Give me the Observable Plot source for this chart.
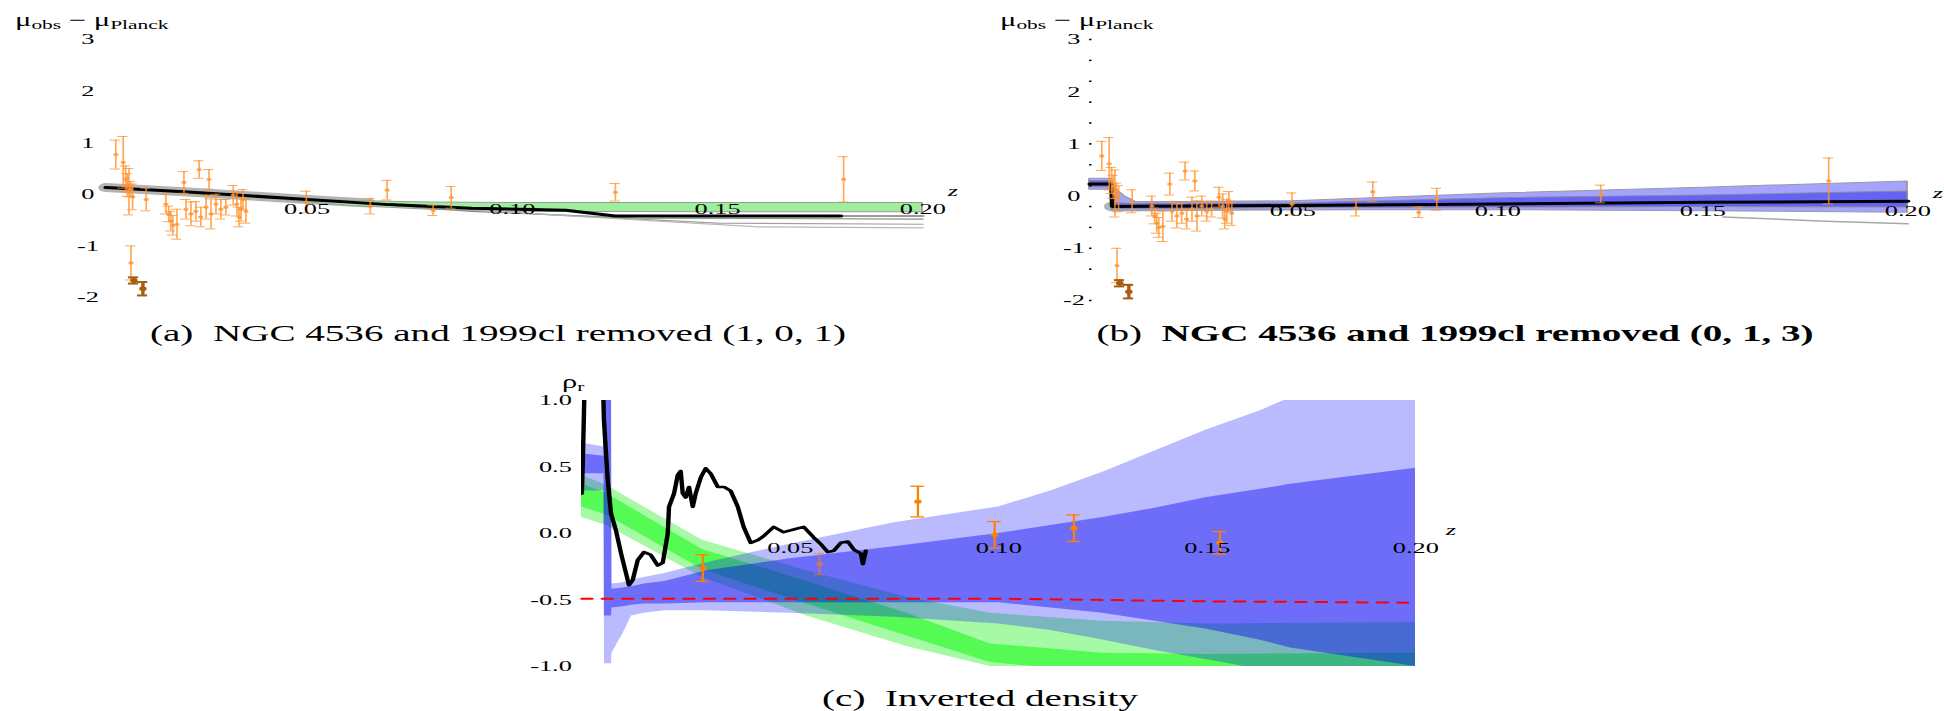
<!DOCTYPE html>
<html><head><meta charset="utf-8">
<script src="https://cdn.jsdelivr.net/npm/d3@7"></script>
<script src="https://cdn.jsdelivr.net/npm/@observablehq/plot@0.6"></script>
<style>
html,body{margin:0;padding:0;background:#fff;}
body{width:1944px;height:711px;overflow:hidden;position:relative;font-family:"Liberation Serif",serif;color:#000;}
.lbl{position:absolute;white-space:nowrap;line-height:1;}
.lbl sub{font-size:70%;vertical-align:-0.25em;}
</style></head><body>
<script>
// ---------- shared supernova residual data (panels a, b) ----------
const snZ   = [0.0034,0.0052,0.0058,0.0062,0.0066,0.0070,0.0075,0.0108,0.0071,0.0156,0.0163,0.0168,0.0173,0.0183,0.0200,0.0237,0.0261,0.0205,0.0217,0.0229,0.0241,0.0254,0.0266,0.0278,0.0290,0.0302,0.0320,0.0329,0.0339,0.0344,0.0351,0.0334,0.0498,0.0654,0.0695,0.0807,0.0851,0.1251,0.1807];
const snMu  = [0.77,0.62,0.30,0.18,0.05,0.10,-0.05,-0.10,-1.33,-0.19,-0.38,-0.52,-0.60,-0.58,0.23,0.48,0.29,-0.29,-0.38,-0.33,-0.44,-0.25,-0.38,-0.19,-0.29,-0.25,-0.02,-0.19,-0.29,-0.10,-0.33,-0.44,-0.15,-0.23,0.08,-0.31,-0.06,0.04,0.29];
const snErr = [0.28,0.50,0.25,0.22,0.45,0.15,0.25,0.22,0.33,0.19,0.15,0.19,0.19,0.29,0.21,0.17,0.19,0.19,0.23,0.19,0.19,0.23,0.29,0.19,0.19,0.15,0.19,0.23,0.23,0.19,0.23,0.19,0.21,0.15,0.19,0.10,0.21,0.17,0.44];
// removed objects (NGC 4536, 1999cl)
const remZ   = [0.0078, 0.0100];
const remMu  = [-1.67, -1.83];
const remErr = [0.06, 0.13];

// ---------- panel (a) model curves ----------
const aBlackZ  = [0.001,0.02,0.05,0.07,0.09,0.113,0.125,0.18];
const aBlackMu = [0.13,0.05,-0.10,-0.20,-0.27,-0.31,-0.42,-0.42];
const aTailZ   = [0.18,0.20];
const aTailMu  = [-0.42,-0.42];
const aHaloZ   = [0.001,0.02,0.05,0.065];
const aHaloMu  = [0.13,0.05,-0.10,-0.17];
const aGreenZ  = [0.045,0.06,0.08,0.10,0.15,0.20];
const aGreenHi = [-0.08,-0.13,-0.16,-0.17,-0.17,-0.17];
const aGreenLo = [-0.12,-0.22,-0.30,-0.34,-0.35,-0.35];
const aGrey1Z = [0.06,0.09,0.13,0.20],  aGrey1Mu = [-0.15,-0.33,-0.46,-0.48];
const aGrey2Z = [0.07,0.11,0.15,0.20],  aGrey2Mu = [-0.20,-0.40,-0.56,-0.58];
const aGrey3Z = [0.08,0.12,0.16,0.20],  aGrey3Mu = [-0.25,-0.45,-0.63,-0.65];

// ---------- panel (b) model curves ----------
const bBandZ   = [0.0005,0.0058,0.006,0.009,0.012,0.05,0.10,0.15,0.20];
const bLightHi = [0.33,0.33,0.20,0.00,-0.12,-0.10,0.05,0.16,0.28];
const bLightLo = [0.12,0.12,-0.28,-0.28,-0.28,-0.27,-0.27,-0.29,-0.32];
const bDarkHi  = [0.29,0.29,-0.13,-0.14,-0.15,-0.14,-0.04,0.01,0.09];
const bDarkLo  = [0.17,0.17,-0.25,-0.25,-0.25,-0.23,-0.22,-0.21,-0.22];
const bBlackZ  = [0.0005,0.0058,0.006,0.05,0.10,0.15,0.20];
const bBlackMu = [0.23,0.23,-0.20,-0.18,-0.15,-0.12,-0.10];
const bHaloZ   = [0.006,0.05,0.10];
const bHaloMu  = [-0.20,-0.18,-0.15];
const bGreyZ   = [0.155,0.18,0.20];
const bGreyMu  = [-0.40,-0.48,-0.53];

// ---------- panel (c) inverted density ----------
const cBlackZ   = [0.0,0.0002,0.0005,0.0007,0.005,0.0053,0.0062,0.007,0.0082,0.0094,0.0106,0.0113,0.0122,0.0134,0.0149,0.0165,0.0182,0.0194,0.0206,0.0209,0.0221,0.023,0.0237,0.0242,0.0249,0.0257,0.0266,0.0273,0.0285,0.0297,0.0309,0.0326,0.0341,0.0357,0.0374,0.0388,0.0405,0.0422,0.0436,0.046,0.0484,0.0508,0.0532,0.0556,0.0573,0.059,0.0604,0.0621,0.0638,0.0652,0.0669,0.0674,0.0681];
const cBlackRho = [0.30,0.5,0.9,1.2,1.2,0.85,0.4,0.15,0.02,-0.15,-0.3,-0.39,-0.35,-0.2,-0.14,-0.16,-0.24,-0.22,0.0,0.2,0.3,0.44,0.47,0.3,0.27,0.35,0.2,0.3,0.42,0.49,0.45,0.35,0.35,0.32,0.2,0.05,-0.07,-0.05,-0.02,0.05,0.01,0.03,0.05,-0.03,-0.08,-0.14,-0.13,-0.07,-0.06,-0.12,-0.15,-0.23,-0.13];
const cBandZ   = [0,0.0054,0.0055,0.0072,0.0073,0.010,0.012,0.015,0.02,0.03,0.05,0.075,0.10,0.1125,0.125,0.1375,0.15,0.1625,0.17,0.20];
const cLightHi = [0.68,0.65,1.05,1.05,-0.38,-0.37,-0.35,-0.33,-0.30,-0.22,-0.08,0.08,0.20,0.32,0.46,0.62,0.78,0.92,1.02,1.05];
const cLightLo = [0.32,0.32,-0.98,-0.98,-0.90,-0.75,-0.62,-0.60,-0.58,-0.58,-0.60,-0.63,-0.68,-0.73,-0.80,-0.88,-0.95,-1.02,-1.05,-1.10];
const cDarkHi  = [0.60,0.58,1.05,1.05,-0.42,-0.41,-0.40,-0.38,-0.36,-0.28,-0.19,-0.10,0.0,0.06,0.12,0.19,0.27,0.33,0.37,0.49];
const cDarkLo  = [0.45,0.45,-0.62,-0.62,-0.56,-0.55,-0.54,-0.53,-0.53,-0.52,-0.52,-0.52,-0.52,-0.56,-0.60,-0.66,-0.72,-0.80,-0.86,-1.0];
const cGreenZ   = [0,0.006,0.029,0.054,0.078,0.098,0.125,0.15,0.20];
const cGLightHi = [0.44,0.36,-0.05,-0.28,-0.48,-0.60,-0.66,-0.68,-0.67];
const cGCoreHi  = [0.37,0.30,-0.12,-0.36,-0.60,-0.83,-0.90,-0.91,-0.90];
const cGCoreLo  = [0.20,0.14,-0.27,-0.53,-0.77,-0.97,-1.05,-1.10,-1.10];
const cGLightLo = [0.12,0.06,-0.33,-0.62,-0.85,-1.00,-1.10,-1.15,-1.15];
const cRedZ   = [0,0.10,0.15,0.198];
const cRedRho = [-0.49,-0.49,-0.51,-0.52];
const cPtZ   = [0.029,0.057,0.0806,0.099,0.118,0.153];
const cPtRho = [-0.26,-0.23,0.24,-0.01,0.04,-0.07];
const cPtErr = [0.10,0.08,0.115,0.10,0.10,0.085];
const cPtFaint = [false,true,false,false,false,false];

// ---------- ticks ----------
const xTicks = [0.05,0.10,0.15,0.20];
const xTickLabels = ["0.05","0.10","0.15","0.20"];
const yTicksAB = [3,2,1,0,-1,-2];
const yTickLabelsAB = ["3","2","1","0","-1","-2"];
const yMinorB = [3,2.6,2.2,1.8,1.4,1.0,0.6,0.2,-0.2,-0.6,-1.0,-1.4,-2.0];
const yTicksC = [1,0.5,0,-0.5,-1];
const yTickLabelsC = ["1.0","0.5","0.0","-0.5","-1.0"];

// ---------- helpers ----------
const S = 1.7; // horizontal stretch of the whole figure
const zip = (xs, ys) => xs.map((x, i) => ({x, y: ys[i]}));
const band = (xs, lo, hi) => xs.map((x, i) => ({x, lo: lo[i], hi: hi[i]}));
const snData = snZ.map((z, i) => ({z, v: snMu[i], e: snErr[i]}));
const remData = remZ.map((z, i) => ({z, v: remMu[i], e: remErr[i]}));

function errMarks(data, color, op, sw, cap, r) {
  return [
    Plot.ruleX(data, {x: "z", y1: d => d.v - d.e, y2: d => d.v + d.e, stroke: color, strokeOpacity: op, strokeWidth: sw}),
    Plot.ruleY(data, {y: d => d.v - d.e, x1: "z", x2: "z", insetLeft: -cap, insetRight: -cap, stroke: color, strokeOpacity: op, strokeWidth: sw}),
    Plot.ruleY(data, {y: d => d.v + d.e, x1: "z", x2: "z", insetLeft: -cap, insetRight: -cap, stroke: color, strokeOpacity: op, strokeWidth: sw}),
    Plot.dot(data, {x: "z", y: "v", r, fill: color, fillOpacity: op, stroke: "none"})
  ];
}
function xAxisMarks(zdx) {
  return [
    Plot.text(xTicks, {x: d => d, y: () => 0, text: (d, i) => xTickLabels[i], dy: 15, fill: "#000"}),
    Plot.text(["z"], {x: () => 0.2, y: () => 0, dx: zdx / S, dy: -3, fontStyle: "italic", fill: "#000"})
  ];
}
function panel({left, top, wFinal, height, mL, mR, mT, mB, yDomain, marks}) {
  const svg = Plot.plot({
    width: wFinal / S, height,
    marginLeft: mL / S, marginRight: mR / S, marginTop: mT, marginBottom: mB,
    x: {domain: [0, 0.2], axis: null},
    y: {domain: yDomain, axis: null},
    style: {fontFamily: "'Liberation Serif', serif", fontSize: "15.5px", background: "transparent"},
    marks
  });
  svg.setAttribute("preserveAspectRatio", "none");
  svg.setAttribute("width", wFinal);
  svg.style.position = "absolute";
  svg.style.left = left + "px";
  svg.style.top = top + "px";
  svg.style.width = wFinal + "px";
  svg.style.height = height + "px";
  svg.style.maxWidth = "none";
  svg.style.overflow = "visible";
  document.body.appendChild(svg);
}
function label(html, x, y, size, {center = false, bold = false, italic = false} = {}) {
  const d = document.createElement("div");
  d.className = "lbl";
  d.innerHTML = html;
  d.style.left = x + "px";
  d.style.top = y + "px";
  d.style.fontSize = size + "px";
  if (bold) d.style.fontWeight = "bold";
  if (italic) d.style.fontStyle = "italic";
  d.style.transformOrigin = center ? "50% 50%" : "0 50%";
  d.style.transform = center ? `translate(-50%,-50%) scaleX(${S})` : `translateY(-50%) scaleX(${S})`;
  document.body.appendChild(d);
}

const ORANGE = "#ff9430", BROWN = "#a85c10";

// ---------- panel (a) ----------
panel({
  left: 0, top: 0, wFinal: 975, height: 310, mL: 101, mR: 53, mT: 39, mB: 13, yDomain: [-2, 3],
  marks: [
    Plot.line(zip(aHaloZ, aHaloMu), {x: "x", y: "y", stroke: "#b4b4b4", strokeWidth: 9}),
    Plot.areaY(band(aGreenZ, aGreenLo, aGreenHi), {x: "x", y1: "lo", y2: "hi", fill: "#9cf09c", stroke: "#9a9a9a", strokeWidth: 1}),
    Plot.line(zip(aGrey1Z, aGrey1Mu), {x: "x", y: "y", stroke: "#8c8c8c", strokeWidth: 1.2}),
    Plot.line(zip(aGrey2Z, aGrey2Mu), {x: "x", y: "y", stroke: "#a0a0a0", strokeWidth: 1.2}),
    Plot.line(zip(aGrey3Z, aGrey3Mu), {x: "x", y: "y", stroke: "#b8b8b8", strokeWidth: 1.2}),
    Plot.line(zip(aTailZ, aTailMu), {x: "x", y: "y", stroke: "#9a9a9a", strokeWidth: 2}),
    Plot.line(zip(aBlackZ, aBlackMu), {x: "x", y: "y", stroke: "#000", strokeWidth: 3}),
    ...errMarks(snData, ORANGE, 0.8, 1, 3, 1.6),
    ...errMarks(remData, BROWN, 1, 2, 3, 2.2),
    ...xAxisMarks(30),
    Plot.text(yTicksAB, {x: () => 0, y: d => d, text: (d, i) => yTickLabelsAB[i], dx: -14 / S, fill: "#000"})
  ]
});

// ---------- panel (b) ----------
panel({
  left: 990, top: 0, wFinal: 954, height: 310, mL: 97, mR: 37, mT: 39, mB: 10, yDomain: [-2, 3],
  marks: [
    Plot.line(zip(bHaloZ, bHaloMu), {x: "x", y: "y", stroke: "#b4b4b4", strokeWidth: 10}),
    Plot.areaY(band(bBandZ, bLightLo, bLightHi), {x: "x", y1: "lo", y2: "hi", fill: "#a4a4ff", stroke: "#9a9a9a", strokeWidth: 1}),
    Plot.areaY(band(bBandZ, bDarkLo, bDarkHi), {x: "x", y1: "lo", y2: "hi", fill: "#6464f4", stroke: "#8a8a9a", strokeWidth: 1}),
    Plot.line(zip(bGreyZ, bGreyMu), {x: "x", y: "y", stroke: "#a8a8a8", strokeWidth: 1.5}),
    Plot.line(zip(bBlackZ, bBlackMu), {x: "x", y: "y", stroke: "#000", strokeWidth: 3}),
    ...errMarks(snData, ORANGE, 0.8, 1, 3, 1.6),
    ...errMarks(remData, BROWN, 1, 2, 3, 2.2),
    ...xAxisMarks(30),
    Plot.ruleY(yMinorB, {y: d => d, x1: () => 0.0005, x2: () => 0.0011, stroke: "#000", strokeWidth: 1.5}),
    Plot.text(yTicksAB, {x: () => 0, y: d => d, text: (d, i) => yTickLabelsAB[i], dx: -14 / S, fill: "#000"})
  ]
});

// ---------- panel (c) ----------
const cPts = cPtZ.map((z, i) => ({z, v: cPtRho[i], e: cPtErr[i], faint: cPtFaint[i]}));
panel({
  left: 520, top: 355, wFinal: 950, height: 330, mL: 61, mR: 55, mT: 45, mB: 19, yDomain: [-1, 1],
  marks: [
    Plot.areaY(band(cGreenZ, cGLightLo, cGLightHi), {x: "x", y1: "lo", y2: "hi", fill: "#a6faa6", clip: true}),
    Plot.areaY(band(cGreenZ, cGCoreLo, cGCoreHi), {x: "x", y1: "lo", y2: "hi", fill: "#55fa55", clip: true}),
    Plot.areaY(band(cBandZ, cLightLo, cLightHi), {x: "x", y1: "lo", y2: "hi", fill: "#0000ff", fillOpacity: 0.27, clip: true}),
    Plot.areaY(band(cBandZ, cDarkLo, cDarkHi), {x: "x", y1: "lo", y2: "hi", fill: "#0000f0", fillOpacity: 0.41, clip: true}),
    Plot.line(zip(cRedZ, cRedRho), {x: "x", y: "y", stroke: "#ff0000", strokeWidth: 2, strokeDasharray: "6,6"}),
    Plot.line(zip(cBlackZ, cBlackRho), {x: "x", y: "y", stroke: "#000", strokeWidth: 2.6, clip: true}),
    ...errMarks(cPts.filter(d => !d.faint), "#ff8000", 1, 1.3, 4, 2.2),
    ...errMarks(cPts.filter(d => d.faint), "#ff8000", 0.5, 1.3, 3, 2.2),
    ...xAxisMarks(35),
    Plot.text(yTicksC, {x: () => 0, y: d => d, text: (d, i) => yTickLabelsC[i], dx: -10 / S, textAnchor: "end", fill: "#000"})
  ]
});

// ---------- axis titles and captions ----------
label("μ<sub>obs</sub> − μ<sub>Planck</sub>", 15, 21, 18, {italic: false});
label("μ<sub>obs</sub> − μ<sub>Planck</sub>", 1000, 21, 18, {italic: false});
label("ρ<sub>r</sub>", 562, 383, 18);
label("(a)&nbsp; NGC 4536 and 1999cl removed (1, 0, 1)", 498, 333, 23, {center: true});
label("(b)&nbsp; <b>NGC 4536 and 1999cl removed (0, 1, 3)</b>", 1455, 333, 23, {center: true});
label("(c)&nbsp; Inverted density", 980, 698, 23, {center: true});
</script>
</body></html>
